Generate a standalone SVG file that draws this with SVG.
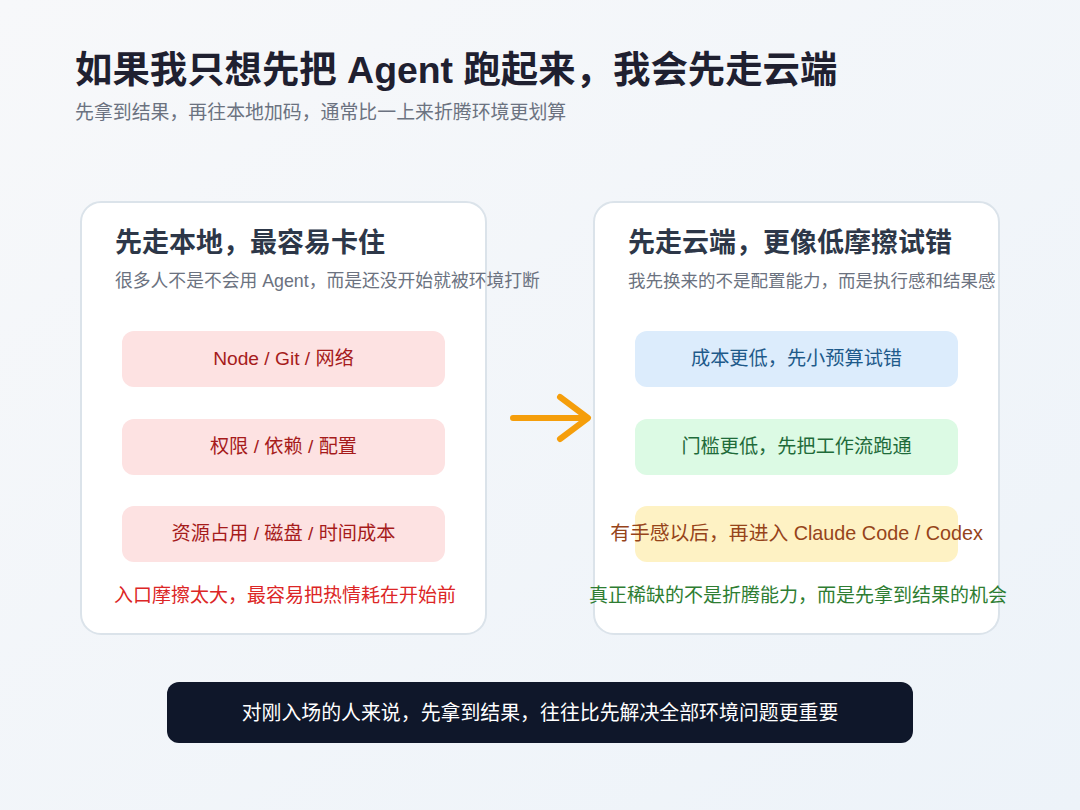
<svg xmlns="http://www.w3.org/2000/svg" width="1080" height="810" viewBox="0 0 1080 810">
<defs>
<linearGradient id="bg" x1="0" y1="0" x2="1" y2="1">
<stop offset="0" stop-color="#f7f8fa"/>
<stop offset="1" stop-color="#edf3f9"/>
</linearGradient>
<style>
text{font-family:"Liberation Sans","Noto Sans CJK SC",sans-serif;}
.title{font-size:37.4px;font-weight:700;fill:#1f2030;}
.sub{font-size:18.9px;fill:#6b7280;}
.card{fill:#ffffff;stroke:#dbe3ea;stroke-width:2;}
.ctitle{font-size:27px;font-weight:700;fill:#2d3748;}
.csub{font-size:17.8px;fill:#6b7280;}
.pill{font-size:19.2px;text-anchor:middle;}
.foot{font-size:19px;text-anchor:middle;}
</style>
</defs>
<rect width="1080" height="810" fill="url(#bg)"/>
<g id="header">
<text class="title" x="75" y="83">如果我只想先把 Agent 跑起来，我会先走云端</text>
<text class="sub" x="75" y="119">先拿到结果，再往本地加码，通常比一上来折腾环境更划算</text>
</g>
<g id="left-card">
<rect class="card" x="81" y="202" width="405" height="432" rx="20"/>
<text class="ctitle" x="115" y="252">先走本地，最容易卡住</text>
<text class="csub" x="115" y="287">很多人不是不会用 Agent，而是还没开始就被环境打断</text>
</g>
<g id="left-1">
<rect x="122" y="331" width="323" height="56" rx="12" fill="#fde2e2"/>
<text class="pill" x="283.5" y="365" fill="#a61b1b">Node / Git / 网络</text>
</g>
<g id="left-2">
<rect x="122" y="419" width="323" height="56" rx="12" fill="#fde2e2"/>
<text class="pill" x="283.5" y="453" fill="#a61b1b">权限 / 依赖 / 配置</text>
</g>
<g id="left-3">
<rect x="122" y="506" width="323" height="56" rx="12" fill="#fde2e2"/>
<text class="pill" x="283.5" y="540" fill="#a61b1b">资源占用 / 磁盘 / 时间成本</text>
</g>
<g id="left-foot">
<text class="foot" x="285" y="602" fill="#dc2626">入口摩擦太大，最容易把热情耗在开始前</text>
</g>
<g id="right-card">
<rect class="card" x="594" y="202" width="405" height="432" rx="20"/>
<text class="ctitle" x="628" y="252">先走云端，更像低摩擦试错</text>
<text class="csub" x="628" y="287" style="font-size:17.5px">我先换来的不是配置能力，而是执行感和结果感</text>
</g>
<g id="right-1">
<rect x="635" y="331" width="323" height="56" rx="12" fill="#dcecfc"/>
<text class="pill" x="796.5" y="365" fill="#1e5a8a">成本更低，先小预算试错</text>
</g>
<g id="right-2">
<rect x="635" y="419" width="323" height="56" rx="12" fill="#dcfae4"/>
<text class="pill" x="796.5" y="453" fill="#1f6b3a">门槛更低，先把工作流跑通</text>
</g>
<g id="right-3">
<rect x="635" y="506" width="323" height="56" rx="12" fill="#fef2c4"/>
<text class="pill" x="796.5" y="540" fill="#96441a" style="font-size:19.8px">有手感以后，再进入 Claude Code / Codex</text>
</g>
<g id="right-foot">
<text class="foot" x="798" y="602" fill="#2e7d32">真正稀缺的不是折腾能力，而是先拿到结果的机会</text>
</g>
<g id="connectors">
<path d="M513 418 H584 M560 397 L588 418 L560 439" fill="none" stroke="#f59e0b" stroke-width="6" stroke-linecap="round" stroke-linejoin="round"/>
</g>
<g id="bottom-bar">
<rect x="167" y="682" width="746" height="61" rx="12" fill="#0f172a"/>
<text x="540" y="720" font-size="19.9" fill="#ffffff" text-anchor="middle">对刚入场的人来说，先拿到结果，往往比先解决全部环境问题更重要</text>
</g>
</svg>
